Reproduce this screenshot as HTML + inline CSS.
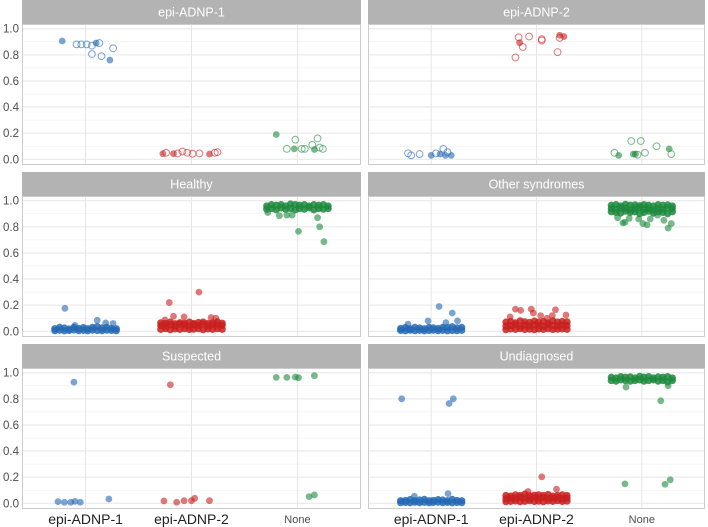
<!DOCTYPE html>
<html><head><meta charset="utf-8"><style>
html,body{margin:0;padding:0;background:#fff;}
svg{display:block;font-family:"Liberation Sans",sans-serif;}
</style></head><body>
<svg id="chart" width="708" height="527" viewBox="0 0 708 527"></svg>
<script>
// ---- data ----
const categories = ["epi-ADNP-1","epi-ADNP-2","None"];
const panelTitles = ["epi-ADNP-1","epi-ADNP-2","Healthy","Other syndromes","Suspected","Undiagnosed"];
const yTicks = [0,0.2,0.4,0.6,0.8,1.0];
const yTickLabels = ["0.0","0.2","0.4","0.6","0.8","1.0"];
const yMinor = [0.1,0.3,0.5,0.7,0.9];
// sparse points: [series index, jitter offset, value, hollow(1)/filled(0)]
const ptsADNP1 = [
 [0,-0.22,0.906,0],[0,-0.085,0.88,1],[0,-0.04,0.88,1],[0,0.01,0.88,1],[0,0.06,0.87,1],[0,0.10,0.89,0],[0,0.13,0.89,1],[0,0.06,0.806,1],[0,0.15,0.79,1],[0,0.26,0.85,1],[0,0.23,0.76,0],
 [1,-0.27,0.043,0],[1,-0.24,0.05,1],[1,-0.17,0.043,0],[1,-0.13,0.045,1],[1,-0.085,0.06,1],[1,-0.04,0.05,1],[1,0.01,0.043,1],[1,0.075,0.045,1],[1,0.17,0.04,0],[1,0.22,0.05,1],[1,0.245,0.055,1],
 [2,-0.2,0.19,0],[2,-0.1,0.08,1],[2,-0.03,0.08,0],[2,-0.02,0.15,1],[2,0.04,0.08,1],[2,0.07,0.08,1],[2,0.14,0.11,1],[2,0.19,0.16,1],[2,0.16,0.075,0],[2,0.21,0.09,1],[2,0.24,0.08,1]
];
const ptsADNP2 = [
 [1,-0.17,0.934,1],[1,-0.16,0.893,0],[1,-0.13,0.86,1],[1,-0.07,0.94,1],[1,0.05,0.92,1],[1,0.05,0.91,1],[1,0.22,0.95,0],[1,0.26,0.94,0],[1,0.22,0.93,1],[1,0.2,0.82,1],[1,-0.2,0.78,1],
 [0,-0.22,0.046,1],[0,-0.19,0.03,1],[0,-0.11,0.04,1],[0,0.0,0.03,0],[0,0.045,0.045,1],[0,0.085,0.04,0],[0,0.115,0.08,1],[0,0.155,0.055,1],[0,0.135,0.03,0],[0,0.19,0.03,0],
 [2,-0.26,0.05,1],[2,-0.22,0.03,0],[2,-0.1,0.14,1],[2,-0.01,0.14,1],[2,-0.08,0.04,0],[2,-0.06,0.04,0],[2,-0.04,0.035,1],[2,0.03,0.05,1],[2,0.14,0.1,1],[2,0.26,0.08,0],[2,0.28,0.04,1]
];
const ptsHealthy = [
 [0,-0.195,0.176,0],[0,0.11,0.084,0],[0,0.19,0.064,0],[0,0.26,0.06,0],[0,-0.1,0.045,0],
 [1,-0.21,0.22,0],[1,0.07,0.30,0],[1,-0.17,0.115,0],[1,-0.07,0.11,0],[1,0.185,0.105,0],[1,0.23,0.1,0],[1,-0.25,0.087,0],
 [2,0.01,0.765,0],[2,0.21,0.80,0],[2,0.25,0.686,0],[2,-0.17,0.885,0],[2,-0.1,0.89,0],[2,-0.05,0.89,0],[2,0.19,0.87,0],[2,-0.28,0.91,0]
];
const ptsOther = [
 [0,0.075,0.19,0],[0,0.2,0.14,0],[0,-0.03,0.08,0],[0,-0.22,0.055,0],[0,0.14,0.066,0],[0,0.25,0.08,0],
 [1,-0.2,0.17,0],[1,-0.15,0.16,0],[1,-0.05,0.17,0],[1,0.18,0.165,0],[1,-0.03,0.14,0],[1,0.04,0.12,0],[1,0.15,0.12,0],[1,0.28,0.125,0],[1,-0.25,0.11,0],[1,0.1,0.1,0],
 [2,-0.23,0.87,0],[2,-0.18,0.83,0],[2,-0.16,0.835,0],[2,-0.12,0.865,0],[2,-0.03,0.86,0],[2,0.01,0.825,0],[2,0.05,0.815,0],[2,0.08,0.86,0],[2,0.21,0.85,0],[2,0.28,0.825,0],[2,0.25,0.79,0],[2,0.15,0.89,0]
];
const ptsSuspected = [
 [0,-0.11,0.928,0],[0,-0.26,0.013,0],[0,-0.2,0.008,0],[0,-0.14,0.008,0],[0,-0.1,0.015,0],[0,-0.05,0.008,0],[0,0.22,0.033,0],
 [1,-0.2,0.908,0],[1,-0.26,0.018,0],[1,-0.14,0.008,0],[1,-0.07,0.02,0],[1,0.0,0.02,0],[1,0.03,0.038,0],[1,0.17,0.02,0],
 [2,-0.2,0.964,0],[2,-0.1,0.964,0],[2,-0.02,0.967,0],[2,0.01,0.962,0],[2,0.16,0.977,0],[2,0.11,0.051,0],[2,0.16,0.064,0]
];
const ptsUndiag = [
 [0,-0.28,0.80,0],[0,0.17,0.764,0],[0,0.21,0.80,0],[0,0.16,0.074,0],[0,-0.16,0.054,0],
 [1,0.05,0.203,0],[1,0.19,0.108,0],[1,-0.08,0.09,0],
 [2,0.18,0.785,0],[2,-0.16,0.149,0],[2,0.22,0.146,0],[2,0.27,0.18,0],[2,-0.15,0.89,0],[2,0.25,0.9,0]
];
// dense clusters: jitter grid and row values
const denseJitter = [-0.29,-0.245,-0.2,-0.155,-0.11,-0.065,-0.02,0.02,0.065,0.11,0.155,0.2,0.245,0.29];
const healthyBlue = [[0.005,0.008,0.004,0.006,0.01,0.005,0.007,0.004,0.009,0.006,0.005,0.008,0.006,0.005],[0.02,0.03,0.025,0.018,0.03,0.022,0.028,0.02,0.03,0.035,0.025,0.03,0.022,0.02]];
const healthyRed = [[0.015,0.02,0.012,0.018,0.015,0.02,0.014,0.016,0.02,0.012,0.018,0.015,0.02,0.015],[0.045,0.04,0.05,0.042,0.055,0.048,0.04,0.05,0.045,0.055,0.042,0.05,0.048,0.045],[0.065,0.06,0.07,0.058,0.066,0.062,0.07,0.06,0.068,0.07,0.06,0.066,0.072,0.062]];
const healthyGreen = [[0.96,0.97,0.965,0.97,0.96,0.975,0.97,0.965,0.97,0.96,0.97,0.965,0.97,0.96],[0.935,0.94,0.93,0.945,0.935,0.94,0.93,0.94,0.935,0.945,0.93,0.94,0.935,0.94]];
const otherBlue = [[0.006,0.004,0.008,0.005,0.007,0.004,0.006,0.008,0.005,0.007,0.004,0.006,0.005,0.007],[0.022,0.028,0.02,0.03,0.025,0.02,0.03,0.026,0.022,0.03,0.028,0.035,0.025,0.03]];
const otherRed = [[0.012,0.018,0.015,0.02,0.014,0.016,0.012,0.018,0.015,0.02,0.014,0.016,0.018,0.015],[0.04,0.045,0.05,0.04,0.048,0.042,0.05,0.045,0.04,0.05,0.045,0.042,0.048,0.045],[0.07,0.075,0.065,0.08,0.072,0.068,0.078,0.07,0.075,0.065,0.08,0.07,0.075,0.072]];
const otherGreen = [[0.965,0.97,0.96,0.972,0.965,0.968,0.962,0.97,0.965,0.96,0.97,0.965,0.968,0.96],[0.94,0.935,0.945,0.94,0.93,0.94,0.945,0.935,0.94,0.93,0.94,0.935,0.945,0.94],[0.915,0.91,0.905,0.92,0.91,0.915,0.9,0.91,0.92,0.905,0.915,0.91,0.9,0.915]];
const undiagBlue = [[0.005,0.006,0.004,0.008,0.005,0.007,0.004,0.006,0.008,0.005,0.007,0.004,0.006,0.005],[0.02,0.022,0.028,0.02,0.025,0.03,0.02,0.022,0.028,0.025,0.02,0.03,0.022,0.02]];
const undiagRed = [[0.012,0.015,0.018,0.012,0.015,0.02,0.014,0.016,0.012,0.018,0.015,0.02,0.014,0.016],[0.035,0.04,0.038,0.045,0.04,0.035,0.042,0.04,0.045,0.038,0.04,0.042,0.035,0.04],[0.06,0.055,0.065,0.06,0.07,0.058,0.062,0.065,0.06,0.068,0.055,0.06,0.065,0.06]];
const undiagGreen = [[0.965,0.96,0.97,0.965,0.968,0.96,0.972,0.965,0.97,0.96,0.968,0.965,0.97,0.96],[0.94,0.935,0.945,0.94,0.935,0.94,0.945,0.935,0.94,0.945,0.935,0.94,0.93,0.94]];

const seriesColors = ["#2468b4","#c8201e","#1c8a3c"];
const panelPoints = [ptsADNP1, ptsADNP2, ptsHealthy, ptsOther, ptsSuspected, ptsUndiag];
const panelDense = [null, null, [healthyBlue,healthyRed,healthyGreen], [otherBlue,otherRed,otherGreen], null, [undiagBlue,undiagRed,undiagGreen]];

// ---- layout ----
const NS = "http://www.w3.org/2000/svg";
const svg = document.getElementById("chart");
const cols = [[22,361],[368,705]];
const rowTops = [0,172,344];
function mk(tag, attrs, parent){ const e=document.createElementNS(NS,tag); for(const k in attrs) e.setAttribute(k,attrs[k]); (parent||svg).appendChild(e); return e; }

panelTitles.forEach((title, p) => {
  const c = p % 2, r = Math.floor(p/2);
  const x0 = cols[c][0], x1 = cols[c][1], top = rowTops[r];
  const pTop = top + 24, pBot = top + 165;
  const yScale = v => top + 159.3 - 130.6 * v;
  const xScale = (cat, off) => x0 + (cat + 0.6 + off) * ((x1 - x0) / 3.2);
  const g = mk("g", {});
  
  
  const strip = mk("rect", {x:x0, y:top, width:x1-x0, height:24, fill:"#b3b3b3"}, g);
  
  
  const st = mk("text", {x:(x0+x1)/2, y:top+16.5, "text-anchor":"middle", "font-size":"12.5", fill:"#ffffff"}, g);
  st.textContent = title;
  
  
  const bg = mk("rect", {x:x0, y:pTop, width:x1-x0, height:pBot-pTop, fill:"#ffffff"}, g);
  
  
  yMinor.forEach(v => {
    const l = mk("line", {x1:x0, x2:x1, y1:yScale(v), y2:yScale(v), stroke:"#f0f0f0", "stroke-width":"0.8"}, g);
    
    
  });
  yTicks.forEach((v,i) => {
    const l = mk("line", {x1:x0, x2:x1, y1:yScale(v), y2:yScale(v), stroke:"#e6e6e6", "stroke-width":"1"}, g);
    
    
    if (c === 0) {
      const t = mk("text", {x:19, y:yScale(v)+4, "text-anchor":"end", "font-size":"11.5", fill:"#4d4d4d"}, g);
      t.textContent = yTickLabels[i];
      
      
    }
  });
  categories.forEach((cat, i) => {
    const l = mk("line", {x1:xScale(i,0), x2:xScale(i,0), y1:pTop, y2:pBot, stroke:"#e6e6e6", "stroke-width":"1"}, g);
    
    
    if (r === 2) {
      const isNone = cat === "None";
      const t = mk("text", {x:xScale(i,0), y:isNone?523:524, "text-anchor":"middle", "font-size":isNone?"11":"14", fill:isNone?"#4d4d4d":"#222222"}, g);
      t.textContent = cat;
      
      
    }
  });
  const border = mk("rect", {x:x0+0.5, y:pTop+0.5, width:x1-x0-1, height:pBot-pTop-1, fill:"none", stroke:"#cccccc", "stroke-width":"1"}, g);
  
  
  const dense = panelDense[p];
  if (dense) {
    dense.forEach((rows, s) => rows.forEach(row => row.forEach((v, j) => {
      const d = mk("circle", {cx:xScale(s, denseJitter[j]), cy:yScale(v), r:3.6, fill:seriesColors[s], "fill-opacity":"0.85"}, g);
      
      
    })));
  }
  panelPoints[p].forEach(pt => {
    const [s, off, v, hollow] = pt;
    const attrs = {cx:xScale(s, off), cy:yScale(v), r:3.4};
    if (hollow) { attrs.fill = "#ffffff"; attrs["fill-opacity"]="0"; attrs.stroke = seriesColors[s]; attrs["stroke-opacity"]="0.6"; attrs["stroke-width"]="1"; }
    else { attrs.fill = seriesColors[s]; attrs["fill-opacity"]="0.6"; }
    const d = mk("circle", attrs, g);
    
    
  });
});
</script>
</body></html>
